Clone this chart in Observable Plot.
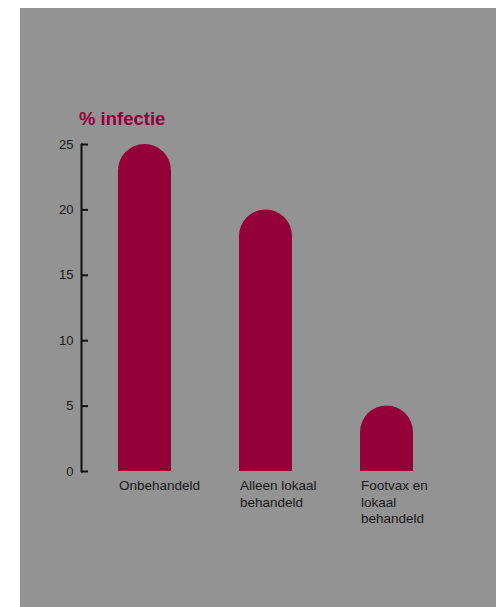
<!DOCTYPE html>
<html>
<head>
<meta charset="utf-8">
<script src="https://cdn.jsdelivr.net/npm/d3@7"></script>
<script src="https://cdn.jsdelivr.net/npm/@observablehq/plot@0.6"></script>
<style>
  html, body { margin: 0; padding: 0; background: #ffffff; }
  #panel { position: absolute; left: 20px; top: 8px; width: 476px; height: 599px; background: #939393; overflow: hidden; }
  #title { position: absolute; left: 59px; top: 100px; font-family: "Liberation Sans", Arial, sans-serif; font-weight: bold; font-size: 18.5px; line-height: 21px; color: #950039; white-space: nowrap; }
  #chart { position: absolute; left: 0; top: 0; }
</style>
</head>
<body>
<div id="panel">
  <div id="chart"></div>
  <div id="title">% infectie</div>
</div>
<script>
const categories = ["Onbehandeld", "Alleen lokaal behandeld", "Footvax en lokaal behandeld"];
const labels = ["Onbehandeld", "Alleen lokaal\nbehandeld", "Footvax en\nlokaal\nbehandeld"];
const values = [25, 20, 5];
const yTicks = [0, 5, 10, 15, 20, 25];

const data = categories.map((c, i) => ({category: c, label: labels[i], value: values[i]}));

const W = 476, H = 599, mL = 61, mR = 82;
const barColor = "#950039";
const font = "'Liberation Sans', Arial, sans-serif";

const plot = Plot.plot({
  width: W,
  height: H,
  marginLeft: mL,
  marginRight: mR,
  marginTop: 136,
  marginBottom: 136,
  style: {background: "transparent", fontFamily: font, color: "#1a1a1a", overflow: "visible"},
  x: {domain: categories, range: [97.5, 394], paddingInner: 0.5647, paddingOuter: 0, align: 0, axis: null},
  y: {domain: [0, 25], axis: null},
  marks: [
    Plot.barY(data, {x: "category", y: "value", fill: barColor, ry1: 26.5}),
    Plot.frame({anchor: "left", stroke: "#111", strokeWidth: 2}),
    Plot.tickY(yTicks, {y: d => d, stroke: "#111", strokeWidth: 2, insetRight: (W - mL - mR) - 7}),
    Plot.axisY({ticks: yTicks, tickSize: 0, tickPadding: 8, fontSize: 13, label: null, fill: "#1a1a1a"}),
    Plot.text(data, {x: "category", text: "label", frameAnchor: "bottom", lineAnchor: "top", textAnchor: "start", dx: -26, dy: 7, fontSize: 13.5, lineHeight: 1.22, fill: "#1a1a1a"})
  ]
});
document.getElementById("chart").appendChild(plot);
</script>
</body>
</html>
